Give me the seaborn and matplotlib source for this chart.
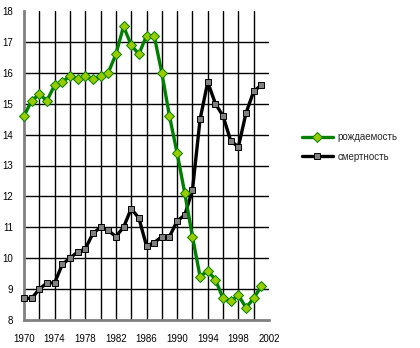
import matplotlib
matplotlib.use("Agg")
import matplotlib.pyplot as plt
import seaborn as sns
import pandas as pd

years = list(range(1970, 2002))
birth = [14.6, 15.1, 15.3, 15.1, 15.6, 15.7, 15.9, 15.8, 15.9, 15.8, 15.9, 16.0,
         16.6, 17.5, 16.9, 16.6, 17.2, 17.2, 16.0, 14.6, 13.4, 12.1, 10.7, 9.4,
         9.6, 9.3, 8.7, 8.6, 8.8, 8.4, 8.7, 9.1]
death = [8.7, 8.7, 9.0, 9.2, 9.2, 9.8, 10.0, 10.2, 10.3, 10.8, 11.0, 10.9,
         10.7, 11.0, 11.6, 11.3, 10.4, 10.5, 10.7, 10.7, 11.2, 11.4, 12.2, 14.5,
         15.7, 15.0, 14.6, 13.8, 13.6, 14.7, 15.4, 15.6]
series_names = ["рождаемость", "смертность"]
x_ticks = list(range(1970, 2003, 2))
x_labels = [str(y) if (y - 1970) % 4 == 0 else "" for y in x_ticks]
y_ticks = list(range(8, 19))

sns.set_style("white")
plt.rcParams['font.family'] = ['Liberation Sans', 'DejaVu Sans']

fig = plt.figure(figsize=(4.2, 3.48), dpi=100)
ax = fig.add_axes([24/420, 1-320/348, (269-24)/420, (320-11)/348])

df_b = pd.DataFrame({"year": years, "value": birth})
df_d = pd.DataFrame({"year": years, "value": death})

# gridlines
for yv in y_ticks[1:-1]:
    ax.axhline(yv, color="black", lw=1.0, zorder=1)
for xv in x_ticks[1:-1]:
    ax.axvline(xv, color="black", lw=1.0, zorder=1)

sns.lineplot(data=df_b, x="year", y="value", ax=ax, color="#008000", lw=2.4,
             marker="D", markersize=5.5, markerfacecolor="#99CC00",
             markeredgecolor="#008000", markeredgewidth=0.7,
             label=series_names[0], zorder=4, clip_on=False)
sns.lineplot(data=df_d, x="year", y="value", ax=ax, color="black", lw=2.4,
             marker="s", markersize=4.6, markerfacecolor="#808080",
             markeredgecolor="black", markeredgewidth=0.7,
             label=series_names[1], zorder=3, clip_on=False)

ax.set_xlim(1970, 2002)
ax.set_ylim(8, 18)
ax.set_xticks(x_ticks)
ax.set_xticklabels(x_labels)
ax.set_yticks(y_ticks)
ax.set_xlabel("")
ax.set_ylabel("")
for s in ["top", "right"]:
    ax.spines[s].set_visible(False)
for s in ["left", "bottom"]:
    ax.spines[s].set_color("#808080")
    ax.spines[s].set_linewidth(2)
ax.tick_params(axis="both", direction="out", length=3, width=1.5,
               color="#808080", labelsize=7, labelcolor="black", pad=5)
ax.tick_params(axis="x", pad=7)

leg = ax.legend(loc="center left", bbox_to_anchor=(293/420, 1-147/348),
                bbox_transform=fig.transFigure, frameon=False, fontsize=7,
                handlelength=3.2, handletextpad=0.5, labelspacing=1.0)
ax.set_facecolor("white")
fig.savefig("out.png", dpi=100, facecolor="white")
